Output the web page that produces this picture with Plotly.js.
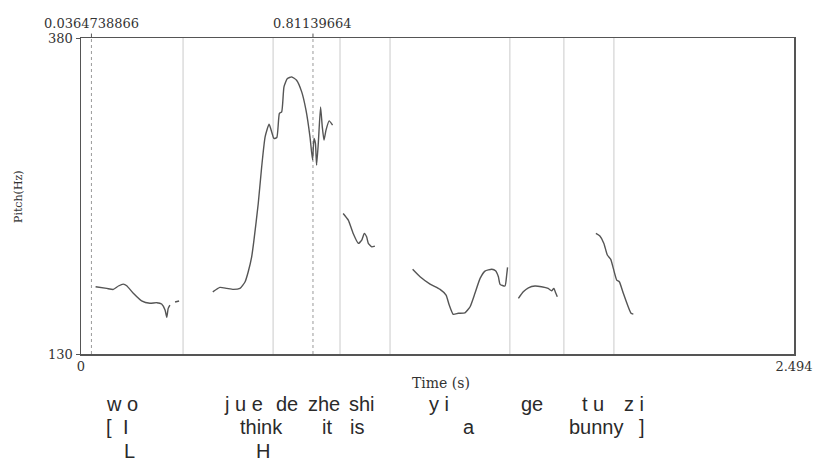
<!DOCTYPE html>
<html>
<head>
<meta charset="utf-8">
<script src="https://cdn.plot.ly/plotly-3.0.1.min.js"></script>
<style>html,body{margin:0;padding:0;background:#fff;}#chart{width:816px;height:462px;}</style>
</head>
<body>
<div id="chart"></div>
<script>
// ---- pitch contour segments (time in s, pitch in Hz) ----
const seg1T  = [0.051,0.090,0.113,0.131,0.148,0.160,0.183,0.212,0.241,0.265,0.282,0.294,0.300,0.305,0.311];
const seg1Hz = [183.2,181.9,181.1,183.8,185.3,184.0,178.0,172.1,170.1,170.6,169.5,164.8,159.0,166.1,168.7];
const seg2T  = [0.329,0.343];
const seg2Hz = [171.1,171.9];
const seg3T  = [0.461,0.486,0.510,0.533,0.556,0.574,0.585,0.597,0.605,0.620,0.632,0.644,0.658,0.667,0.675,0.685,0.694,0.702,0.710,0.722,0.737,0.754,0.772,0.787,0.801,0.810,0.815,0.820,0.824,0.830,0.838,0.844,0.850,0.857,0.868,0.880];
const seg3Hz = [179.2,182.7,181.9,181.1,181.9,187.2,195.1,206.9,220.1,249.1,278.1,301.8,311.8,305.7,300.5,301.3,320.3,321.5,341.3,347.9,349.2,346.6,337.4,322.9,301.8,283.4,300.5,296.6,279.4,296.6,325.5,309.7,299.2,307.1,314.4,311.0];
const seg4T  = [0.917,0.935,0.952,0.970,0.982,0.991,0.999,1.005,1.017,1.028];
const seg4Hz = [241.2,235.9,225.4,217.5,220.1,225.4,222.7,217.5,214.8,215.4];
const seg5T  = [1.160,1.186,1.221,1.256,1.277,1.288,1.302,1.320,1.343,1.361,1.378,1.396,1.413,1.437,1.450,1.460,1.466,1.483,1.489,1.492];
const seg5Hz = [197.0,191.1,185.3,181.1,176.6,168.7,161.4,162.2,162.6,167.4,178.0,189.8,195.6,197.0,195.8,191.1,185.1,183.8,192.5,198.5];
const seg6T  = [1.530,1.547,1.565,1.588,1.611,1.634,1.646,1.654,1.661,1.666];
const seg6Hz = [174.0,179.2,182.4,183.8,183.2,181.9,180.0,181.9,178.0,175.3];
const seg7T  = [1.801,1.815,1.829,1.841,1.853,1.862,1.874,1.883,1.897,1.914,1.924,1.932];
const seg7Hz = [225.4,223.3,217.5,208.3,204.9,197.7,188.5,187.2,178.0,167.4,162.2,161.6];

// ---- interval boundaries and cursor marks ----
const boundaries = [0.357,0.672,0.906,1.081,1.500,1.689,1.864];
const cursorTimes = [0.0364738866, 0.81139664];
const cursorLabels = ["0.0364738866", "0.81139664"];

// ---- axes ----
const timeRange = [0, 2.494];
const pitchRange = [130, 380];
const xTickVals = [0, 2.494];
const xTickText = ["0", "2.494"];
const yTickVals = [130, 380];
const yTickText = ["130", "380"];

// ---- tiers of labels (text, time centre) ----
const tier1Text = ["w o","j u e","de","zhe","shi","y i","ge","t u","z i"];
const tier1Time = [0.143,0.570,0.722,0.850,0.984,1.252,1.579,1.791,1.934];
const tier2Text = ["[","I","think","it","is","a","bunny","]"];
const tier2Time = [0.098,0.157,0.632,0.859,0.967,1.356,1.804,1.961];
const tier3Text = ["L","H"];
const tier3Time = [0.171,0.636];

// combine segments with gaps
const segsT = [seg1T,seg2T,seg3T,seg4T,seg5T,seg6T,seg7T];
const segsHz = [seg1Hz,seg2Hz,seg3Hz,seg4Hz,seg5Hz,seg6Hz,seg7Hz];
let X = [], Y = [];
segsT.forEach((t,i)=>{ if(i>0){X.push(null);Y.push(null);} X = X.concat(t); Y = Y.concat(segsHz[i]); });

const serif = "DejaVu Serif, Liberation Serif, serif";
const sans = "Liberation Sans, Arial, sans-serif";

const shapes = [];
boundaries.forEach(t=>shapes.push({type:'line',xref:'x',yref:'paper',x0:t,x1:t,y0:0,y1:1,line:{color:'#dcdcdc',width:1.5},layer:'below'}));
cursorTimes.forEach(t=>{
  shapes.push({type:'line',xref:'x',yref:'paper',x0:t,x1:t,y0:0,y1:1,line:{color:'#9a9a9a',width:1,dash:'dot'},layer:'below'});
  shapes.push({type:'line',xref:'x',yref:'paper',x0:t,x1:t,y0:1,y1:1.014,line:{color:'#555',width:1}});
});

const annotations = [];
cursorTimes.forEach((t,i)=>annotations.push({xref:'x',yref:'paper',x:t,y:1.02,yanchor:'bottom',xanchor:'center',showarrow:false,borderpad:0,text:cursorLabels[i],font:{family:serif,size:13,color:'#333'}}));
annotations.push({xref:'paper',yref:'paper',x:0.505,y:-0.092,xanchor:'center',yanchor:'middle',showarrow:false,text:'Time (s)',font:{family:serif,size:14,color:'#333'}});
annotations.push({xref:'paper',yref:'paper',x:-0.0884,y:0.5,xanchor:'center',yanchor:'middle',showarrow:false,textangle:-90,text:'Pitch(Hz)',font:{family:serif,size:11,color:'#333'}});
function addTier(texts,times,y){
  texts.forEach((s,i)=>annotations.push({xref:'x',yref:'paper',x:times[i],y:y,xanchor:'center',yanchor:'middle',showarrow:false,borderpad:0,text:s,font:{family:sans,size:20,color:'#2a2a2a'}}));
}
addTier(tier1Text,tier1Time,-0.158);
addTier(tier2Text,tier2Time,-0.231);
addTier(tier3Text,tier3Time,-0.3054);

const data = [{x:X,y:Y,type:'scatter',mode:'lines',connectgaps:false,line:{color:'#555',width:1.4,shape:'spline',smoothing:0.5},hoverinfo:'skip'}];

const layout = {
  width:816,height:462,
  margin:{l:81,r:22,t:38,b:108,pad:0},
  paper_bgcolor:'#fff',plot_bgcolor:'#fff',
  showlegend:false,
  xaxis:{range:timeRange,tickvals:xTickVals,ticktext:xTickText,showgrid:false,zeroline:false,showline:true,mirror:true,linecolor:'#555',linewidth:1.5,ticks:'',tickfont:{family:serif,size:13,color:'#333'}},
  yaxis:{range:pitchRange,tickvals:yTickVals,ticktext:yTickText,showgrid:false,zeroline:false,showline:true,mirror:true,linecolor:'#555',linewidth:1.5,ticks:'outside',ticklen:4,tickcolor:'#555',tickfont:{family:serif,size:13,color:'#333'}},
  shapes:shapes,
  annotations:annotations
};
Plotly.newPlot('chart',data,layout,{staticPlot:true,displayModeBar:false});
</script>
</body>
</html>
